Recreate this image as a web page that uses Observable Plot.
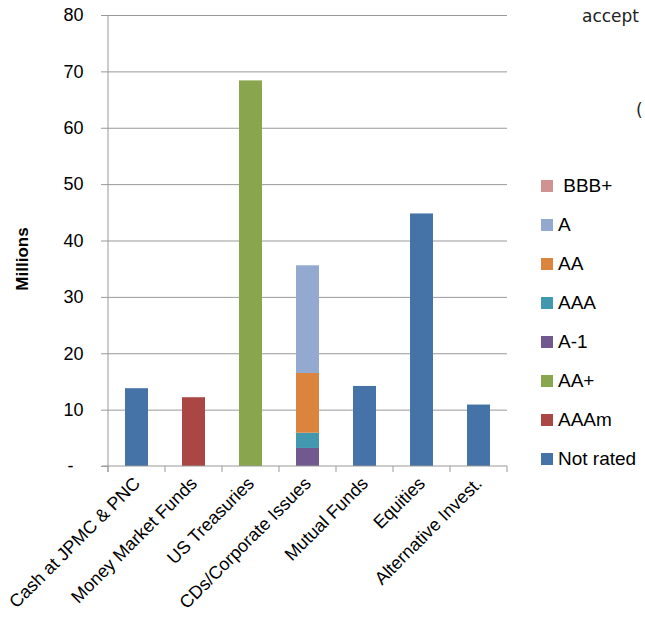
<!DOCTYPE html>
<html><head><meta charset="utf-8">
<script src="https://cdn.jsdelivr.net/npm/d3@7"></script>
<script src="https://cdn.jsdelivr.net/npm/@observablehq/plot@0.6"></script>
<style>
body{margin:0;background:#fff;}
#wrap{position:relative;width:645px;height:633px;overflow:hidden;font-family:"Liberation Sans",Arial,sans-serif;color:#000;}
#wrap svg{position:absolute;left:0;top:0;}
.lg{position:absolute;left:541px;height:14px;display:flex;align-items:center;white-space:pre;font-size:19px;}
.lg span.sw{width:12px;height:12px;margin-right:5px;flex:none;}
.note{position:absolute;font-family:"DejaVu Sans",sans-serif;font-size:17px;white-space:nowrap;color:#222;}
</style></head><body><div id="wrap"></div>
<script>
const categories = ["Cash at JPMC & PNC","Money Market Funds","US Treasuries","CDs/Corporate Issues","Mutual Funds","Equities","Alternative Invest."];
const ratings = ["Not rated","AAAm","AA+","A-1","AAA","AA","A","BBB+"]; // stack order, bottom to top
const ratingColors = ["#4572A7","#AA4643","#89A54E","#71588F","#4198AF","#DB843D","#93A9CF","#D19392"];
const notRated = [13.8, 0, 0, 0, 14.2, 44.8, 10.9];
const aaam     = [0, 12.2, 0, 0, 0, 0, 0];
const aaPlus   = [0, 0, 68.4, 0, 0, 0, 0];
const a1       = [0, 0, 0, 3.2, 0, 0, 0];
const aaa      = [0, 0, 0, 2.7, 0, 0, 0];
const aa       = [0, 0, 0, 10.6, 0, 0, 0];
const aRated   = [0, 0, 0, 19.1, 0, 0, 0];
const bbbPlus  = [0, 0, 0, 0, 0, 0, 0];
const yTicks = [0, 10, 20, 30, 40, 50, 60, 70, 80];

const seriesValues = [notRated, aaam, aaPlus, a1, aaa, aa, aRated, bbbPlus];
const data = [];
ratings.forEach((r, i) => categories.forEach((c, j) => {
  if (seriesValues[i][j] > 0) data.push({category: c, rating: r, value: seriesValues[i][j]});
}));

function decor(index, scales) {
  const x = scales.x, y = scales.y;
  const bw = x.bandwidth();
  const step = x(categories[1]) - x(categories[0]);
  const gap = (step - bw) / 2;
  const g = d3.create("svg:g");
  const y0 = y(0);
  const left = x(categories[0]) - gap;
  const right = x(categories[categories.length - 1]) + bw + gap;
  g.append("line").attr("x1", left).attr("x2", left).attr("y1", y(80)).attr("y2", y0 + 6).attr("stroke", "#999");
  g.append("line").attr("x1", left - 6).attr("x2", right).attr("y1", y0).attr("y2", y0).attr("stroke", "#999");
  categories.concat([null]).forEach((c) => {
    const bx = c === null ? right : x(c) - gap;
    g.append("line").attr("x1", bx).attr("x2", bx).attr("y1", y0).attr("y2", y0 + 6).attr("stroke", "#999");
  });
  g.append("text").attr("transform", "translate(28,259) rotate(-90)")
    .attr("text-anchor", "middle").attr("font-weight", "bold").attr("font-size", 17)
    .attr("fill", "#000").text("Millions");
  return g.node();
}

const chart = Plot.plot({
  width: 645, height: 633,
  marginLeft: 107, marginRight: 138, marginTop: 15, marginBottom: 167,
  style: {fontFamily: "'Liberation Sans', Arial, sans-serif", fontSize: "17px", overflow: "visible", background: "transparent", color: "#000"},
  x: {domain: categories, paddingInner: 0.6, paddingOuter: 0.3, axis: null},
  y: {domain: [0, 80], axis: null},
  color: {domain: ratings, range: ratingColors},
  marks: [
    Plot.ruleY(yTicks.filter(d => d > 0), {stroke: "#999", strokeWidth: 1}),
    Plot.barY(data, {x: "category", y: "value", fill: "rating", order: ratings}),
    Plot.axisY({ticks: yTicks, tickFormat: d => d === 0 ? "-\u2007" : String(d), tickSize: 6, tickPadding: 18, stroke: "#999", fill: "#000", fontSize: 18, label: null}),
    Plot.axisX({tickSize: 0, tickPadding: 14, tickRotate: -45, fontSize: 18, fill: "#000", label: null}),
    decor
  ]
});
const wrap = document.getElementById("wrap");
wrap.appendChild(chart);

const legendOrder = ratings.slice().reverse();
legendOrder.forEach((r, i) => {
  const row = document.createElement("div");
  row.className = "lg";
  row.style.top = (178.5 + 39 * i) + "px";
  const sw = document.createElement("span");
  sw.className = "sw";
  sw.style.background = ratingColors[ratings.indexOf(r)];
  const t = document.createElement("span");
  t.textContent = (r === "BBB+" ? " " : "") + r;
  row.appendChild(sw); row.appendChild(t);
  wrap.appendChild(row);
});
const n1 = document.createElement("div");
n1.className = "note"; n1.style.left = "582px"; n1.style.top = "6px"; n1.textContent = "accept";
wrap.appendChild(n1);
const n2 = document.createElement("div");
n2.className = "note"; n2.style.left = "636px"; n2.style.top = "100px"; n2.textContent = "(";
wrap.appendChild(n2);
</script>
</body></html>
